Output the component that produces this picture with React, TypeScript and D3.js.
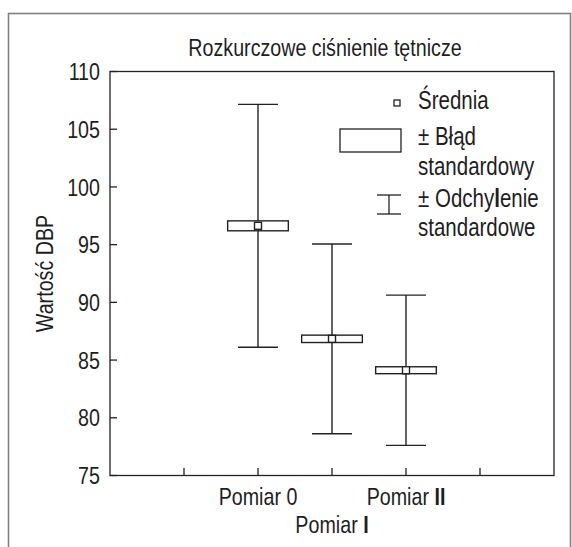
import React from 'react';
import * as d3 from 'd3';

// Rozkurczowe ciśnienie tętnicze – średnia, ± błąd standardowy, ± odchylenie standardowe

const categories = ['Pomiar 0', 'Pomiar I', 'Pomiar II'];
const catPos = [2, 3, 4];
const means = [96.63, 86.84, 84.12];
const stdErr = [0.43, 0.32, 0.3];
const stdDev = [10.52, 8.22, 6.51];
const yTicks = [75, 80, 85, 90, 95, 100, 105, 110];
const xTicks = [1, 2, 3, 4, 5];

const FONT = "'Liberation Sans', Arial, sans-serif";
const FS = 24;
const NARROW = 0.82; // no condensed font installed, squeeze a regular one

const width = 572;
const height = 547;
const margin = { top: 71.5, right: 18, bottom: 71.5, left: 110 };

// narrow text helper
const T = ({ x, y, anchor = 'start', rotate = 0, dy, size, children }: any) => (
  <g transform={`translate(${x},${y})${rotate ? ` rotate(${rotate})` : ''} scale(${NARROW},1)`}>
    <text textAnchor={anchor} dy={dy} fontSize={size} fill="#1e1e1e">{children}</text>
  </g>
);

const App = () => {
  const x = d3.scaleLinear().domain([0, 6]).range([margin.left, width - margin.right]);
  const y = d3.scaleLinear().domain([75, 110]).range([height - margin.bottom, margin.top]);

  const boxW = 0.82; // in x units
  const capW = 0.54;
  const dot = 7;

  const labelWithBold = (t: string) => {
    const m = t.match(/^(Pomiar )(I+)$/);
    if (!m) return t;
    return (
      <>
        {m[1]}
        <tspan fontWeight="bold">{m[2]}</tspan>
      </>
    );
  };

  return (
    <svg width={width} height={height} style={{ position: 'absolute', left: 0, top: 0, background: '#fff' }}
      fontFamily={FONT} fontSize={FS}>
      {/* outer frame */}
      <rect x={8.5} y={13.5} width={562} height={600} fill="none" stroke="#808080" strokeWidth={1.6} />

      <T x={325} y={56} anchor="middle">Rozkurczowe ciśnienie tętnicze</T>

      {/* plot frame */}
      <rect x={x(0)} y={y(110)} width={x(6) - x(0)} height={y(75) - y(110)} fill="none" stroke="#222" strokeWidth={1.3} />

      {/* y ticks */}
      {yTicks.map((t) => (
        <g key={t}>
          <line x1={x(0)} x2={x(0) + 7} y1={y(t)} y2={y(t)} stroke="#222" strokeWidth={1.3} />
          <T x={100} y={y(t)} dy="0.36em" anchor="end">{t}</T>
        </g>
      ))}

      {/* x ticks */}
      {xTicks.map((t) => (
        <line key={t} x1={x(t)} x2={x(t)} y1={y(75)} y2={y(75) - 7.5} stroke="#222" strokeWidth={1.3} />
      ))}

      {/* category labels, middle one staggered */}
      {categories.map((c, i) => (
        <T key={c} x={x(catPos[i])} y={i === 1 ? 533 : 505} anchor="middle">
          {labelWithBold(c)}
        </T>
      ))}

      <T x={53} y={(y(75) + y(110)) / 2} rotate={-90} anchor="middle">Wartość DBP</T>

      {/* marks */}
      {categories.map((c, i) => {
        const cx = x(catPos[i]);
        const hw = (x(boxW) - x(0)) / 2;
        const hc = (x(capW) - x(0)) / 2;
        return (
          <g key={c} stroke="#222" strokeWidth={1.4} fill="#fff">
            <line x1={cx} x2={cx} y1={y(means[i] + stdDev[i])} y2={y(means[i] - stdDev[i])} />
            <line x1={cx - hc} x2={cx + hc} y1={y(means[i] + stdDev[i])} y2={y(means[i] + stdDev[i])} />
            <line x1={cx - hc} x2={cx + hc} y1={y(means[i] - stdDev[i])} y2={y(means[i] - stdDev[i])} />
            <rect x={cx - hw} y={y(means[i] + stdErr[i])} width={hw * 2} height={y(means[i] - stdErr[i]) - y(means[i] + stdErr[i])} />
            <rect x={cx - dot / 2} y={y(means[i]) - dot / 2} width={dot} height={dot} />
          </g>
        );
      })}

      {/* legend */}
      <g stroke="#222" strokeWidth={1.3} fill="#fff">
        <rect x={394} y={100} width={6} height={6} />
        <rect x={340} y={129} width={61} height={23} />
        <line x1={389} x2={389} y1={195} y2={214} />
        <line x1={377} x2={401} y1={195} y2={195} />
        <line x1={377} x2={401} y1={214} y2={214} />
      </g>
      <T x={418} y={109} size={25}>Średnia</T>
      <T x={418} y={145} size={25}>± Błąd</T>
      <T x={418} y={175} size={25}>standardowy</T>
      <T x={418} y={207} size={25}>± Odchy<tspan fontWeight="bold">l</tspan>enie</T>
      <T x={418} y={236} size={25}>standardowe</T>
    </svg>
  );
};

export default App;
